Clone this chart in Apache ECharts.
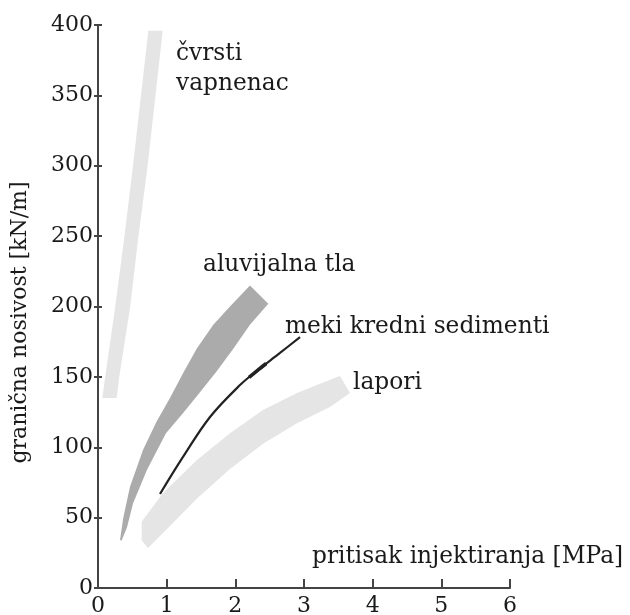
<!DOCTYPE html>
<html>
<head>
<meta charset="utf-8">
<script src="https://cdn.jsdelivr.net/npm/echarts@6/dist/echarts.min.js"></script>
<style>
html,body{margin:0;padding:0;background:#fff;}
#chart{width:630px;height:615px;}
</style>
</head>
<body>
<div id="chart"></div>
<script>
// ---- axes ----
const xMin = 0, xMax = 6, xStep = 1;
const yMin = 0, yMax = 400, yStep = 50;
const xAxisName = 'pritisak injektiranja [MPa]';
const yAxisName = 'granična nosivost [kN/m]';

// ---- band: čvrsti vapnenac (left & right edges, bottom -> top) ----
const cvrstiLeftX  = [0.063, 0.102, 0.248, 0.383, 0.505, 0.733];
const cvrstiLeftY  = [135, 149, 199, 249, 298, 396];
const cvrstiRightX = [0.272, 0.306, 0.466, 0.587, 0.718, 0.942];
const cvrstiRightY = [135, 149, 199, 249, 298, 396];

// ---- band: aluvijalna tla (upper edge & lower edge, bottom -> top) ----
const aluvUpperX = [0.320, 0.368, 0.466, 0.655, 0.85, 1.048, 1.242, 1.437, 1.679, 1.922, 2.213];
const aluvUpperY = [34, 50, 72, 98, 118, 135, 153, 170, 187, 200, 215];
const aluvLowerX = [0.345, 0.422, 0.510, 0.714, 0.990, 1.252, 1.485, 1.729, 1.970, 2.213, 2.480];
const aluvLowerY = [34, 43, 60, 84, 110, 125, 139, 154, 170, 187, 202];

// ---- band: lapori (upper edge & lower edge, left -> right) ----
const laporiUpperX = [0.636, 0.947, 1.442, 1.922, 2.403, 2.898, 3.48, 3.524];
const laporiUpperY = [47, 67.5, 91, 110, 126.5, 138.5, 150, 150.6];
const laporiLowerX = [0.636, 0.728, 1.048, 1.442, 1.922, 2.403, 2.898, 3.378, 3.67];
const laporiLowerY = [34, 28.4, 44, 63.5, 84.5, 102.5, 117, 128.6, 138.5];

// ---- curve: meki kredni sedimenti ----
const mekiX = [0.903, 1.238, 1.631, 2.068, 2.315, 2.650, 2.942];
const mekiY = [66.8, 93.1, 121.5, 144.2, 154.3, 167, 178.3];
const mekiThickX = [2.2, 2.315, 2.45];
const mekiThickY = [149.6, 154.3, 159.5];

// ---- annotations ----
const labelText = ['čvrsti', 'vapnenac', 'aluvijalna tla', 'meki kredni sedimenti', 'lapori', xAxisName];
const labelX = [1.136, 1.136, 1.529, 2.723, 3.713, 3.116];
const labelY = [379.4, 358.1, 229.5, 185.4, 145.6, 22];

const FONT = 'DejaVu Serif';

function zip(xs, ys) { return xs.map((x, i) => [x, ys[i]]); }
function polygonOf(aX, aY, bX, bY) {
  return zip(aX, aY).concat(zip(bX, bY).reverse());
}

const cvrstiPoly = polygonOf(cvrstiLeftX, cvrstiLeftY, cvrstiRightX, cvrstiRightY);
const aluvPoly = polygonOf(aluvUpperX, aluvUpperY, aluvLowerX, aluvLowerY);
const laporiPoly = polygonOf(laporiUpperX, laporiUpperY, laporiLowerX, laporiLowerY);

function bandSeries(name, poly, color) {
  return {
    type: 'custom',
    name: name,
    data: poly,
    silent: true,
    renderItem: function (params, api) {
      if (params.dataIndex !== 0) return null;
      return {
        type: 'polygon',
        shape: { points: poly.map(p => api.coord(p)) },
        style: { fill: color }
      };
    },
    z: 1
  };
}

const chart = echarts.init(document.getElementById('chart'), null, { renderer: 'canvas' });
chart.setOption({
  animation: false,
  backgroundColor: '#ffffff',
  grid: { left: 98, right: 120, top: 25, bottom: 27, containLabel: false, outerBoundsMode: 'none' },
  xAxis: {
    type: 'value', min: xMin, max: xMax, interval: xStep,
    axisLine: { lineStyle: { color: '#444', width: 2 } },
    axisTick: { inside: true, length: 9, lineStyle: { color: '#444', width: 2 } },
    axisLabel: { fontFamily: FONT, fontSize: 22, color: '#1a1a1a', margin: 7 },
    splitLine: { show: false }
  },
  yAxis: [{
    type: 'value', min: yMin, max: yMax, interval: yStep,
    name: yAxisName, nameLocation: 'middle', nameGap: 67,
    nameTextStyle: { fontFamily: FONT, fontSize: 22, color: '#1a1a1a', padding: [0, 32, 0, 0] },
    axisLine: { lineStyle: { color: '#444', width: 2 } },
    axisTick: { inside: true, length: 4, lineStyle: { color: '#444', width: 2 } },
    axisLabel: { fontFamily: FONT, fontSize: 22, color: '#1a1a1a', margin: 5, padding: [0, 0, 6, 0] },
    splitLine: { show: false }
  }, {
    type: 'value', min: yMin, max: yMax, interval: yStep, position: 'left',
    axisLine: { show: false },
    axisTick: { inside: false, length: 4, lineStyle: { color: '#444', width: 2 } },
    axisLabel: { show: false },
    splitLine: { show: false }
  }],
  series: [
    bandSeries('čvrsti vapnenac', cvrstiPoly, '#e5e5e5'),
    bandSeries('aluvijalna tla', aluvPoly, '#ababab'),
    bandSeries('lapori', laporiPoly, '#e5e5e5'),
    {
      type: 'line', name: 'meki kredni sedimenti',
      data: zip(mekiX, mekiY), smooth: 0.35, showSymbol: false, symbol: 'none',
      lineStyle: { color: '#222', width: 2.2 }, silent: true, z: 3
    },
    {
      type: 'line', name: 'meki kredni sedimenti (deblji dio)',
      data: zip(mekiThickX, mekiThickY), smooth: 0.35, showSymbol: false, symbol: 'none',
      lineStyle: { color: '#222', width: 3.6 }, silent: true, z: 3
    },
    {
      type: 'scatter', name: 'oznake', symbolSize: 0, silent: true,
      itemStyle: { opacity: 1 },
      data: labelText.map((t, i) => ({ name: t, value: [labelX[i], labelY[i]] })),
      label: {
        show: true, position: 'right', distance: 0, opacity: 1,
        formatter: p => p.name,
        fontFamily: FONT, fontSize: 23.3, color: '#1a1a1a'
      },
      z: 4
    }
  ]
});
</script>
</body>
</html>
